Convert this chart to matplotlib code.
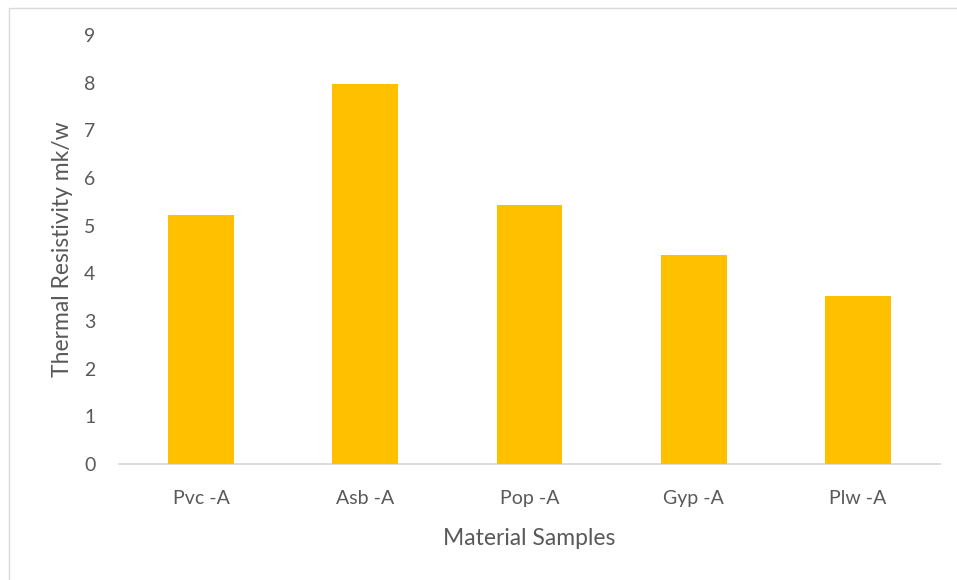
import matplotlib
matplotlib.use("Agg")
import matplotlib.pyplot as plt
from matplotlib.patches import Rectangle

categories = ["Pvc -A", "Asb -A", "Pop -A", "Gyp -A", "Plw -A"]
resistivity = [5.22, 7.98, 5.43, 4.38, 3.52]
y_ticks = list(range(0, 10))

plt.rcParams['font.family'] = ['Lato', 'DejaVu Sans']
text_color = "#595959"

fig = plt.figure(figsize=(9.57, 5.80), dpi=100)
ax = fig.add_axes([119 / 957, 1 - 464 / 580, (940 - 119) / 957, (464 - 35) / 580])

x = range(len(categories))
ax.bar(x, resistivity, width=0.4, color="#FFC000", zorder=3)

ax.set_xlim(-0.5, len(categories) - 0.5)
ax.set_ylim(0, 9)
ax.set_yticks(y_ticks)
ax.set_xticks(list(x))
ax.set_xticklabels(categories)

for side in ["top", "right", "left"]:
    ax.spines[side].set_visible(False)
ax.spines["bottom"].set_color("#d9d9d9")
ax.spines["bottom"].set_linewidth(1.3)

ax.tick_params(axis="both", length=0, labelsize=14, colors=text_color)
ax.tick_params(axis="y", pad=17)
ax.tick_params(axis="x", pad=19)

ax.set_ylabel("Thermal Resistivity mk/w", fontsize=16.5, color=text_color, labelpad=8)
ax.set_xlabel("Material Samples", fontsize=16.5, color=text_color, labelpad=15)

# chart-area frame
fig.patches.append(Rectangle((9 / 957, -0.1), 1.2, 1 - 8 / 580 + 0.1,
                             transform=fig.transFigure, fill=False,
                             edgecolor="#d9d9d9", linewidth=1.0))

fig.savefig("out.png", dpi=100)
